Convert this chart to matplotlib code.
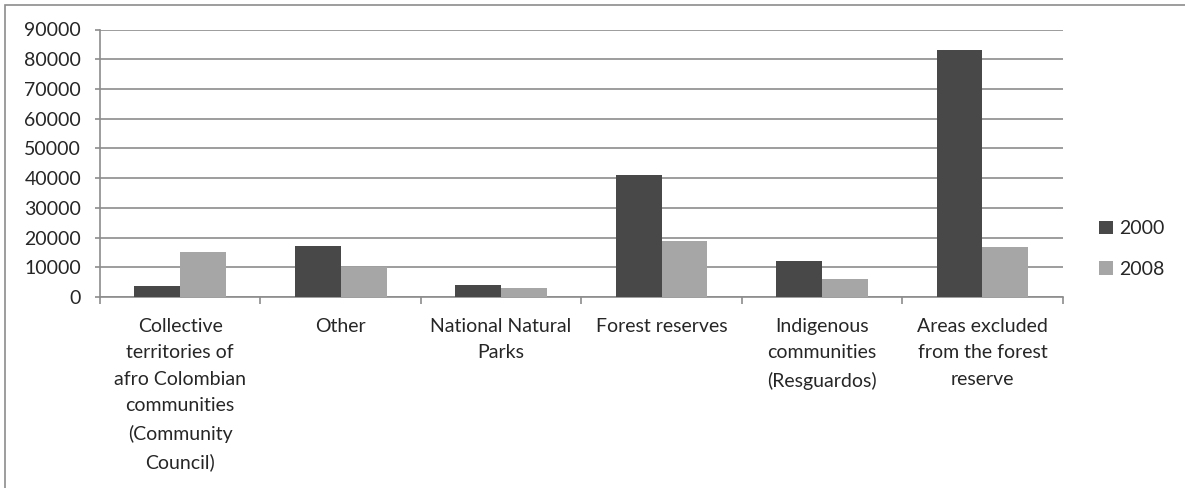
import matplotlib
matplotlib.use('Agg')
import matplotlib.pyplot as plt
import numpy as np

categories = [
    "Collective\nterritories of\nafro Colombian\ncommunities\n(Community\nCouncil)",
    "Other",
    "National Natural\nParks",
    "Forest reserves",
    "Indigenous\ncommunities\n(Resguardos)",
    "Areas excluded\nfrom the forest\nreserve",
]
values_2000 = [3700, 17200, 4100, 41100, 12000, 83000]
values_2008 = [15000, 10000, 3000, 19000, 6000, 16700]
series_labels = ["2000", "2008"]
y_ticks = list(range(0, 90001, 10000))

TEXT = "#262626"
GRID = "#8c8c8c"

plt.rcParams['font.family'] = ['Lato', 'DejaVu Sans']
plt.rcParams['font.size'] = 14

fig = plt.figure(figsize=(11.85, 4.88), dpi=100)
ax = fig.add_axes([100 / 1185, 1 - 297 / 488, 962.7 / 1185, (297 - 29.5) / 488])

# outer chart border
fig.patches.append(plt.Rectangle((5 / 1185, -0.1), 1.2, 1 - 5 / 488 + 0.1,
                                 transform=fig.transFigure, fill=False,
                                 edgecolor=GRID, linewidth=1.2))

x = np.arange(len(categories))
w = 1 / 3.5
ax.bar(x - w / 2, values_2000, width=w, color="#484848", label=series_labels[0], zorder=3)
ax.bar(x + w / 2, values_2008, width=w, color="#a6a6a6", label=series_labels[1], zorder=3)

ax.set_xlim(-0.5, len(categories) - 0.5)
ax.set_ylim(0, 90000)
ax.set_yticks(y_ticks)
ax.set_yticklabels([str(t) for t in y_ticks], color=TEXT)
ax.yaxis.grid(True, color=GRID, linewidth=1.2, zorder=0)

ax.set_xticks(x)
ax.set_xticklabels(categories, color=TEXT, linespacing=1.68, va='top')
ax.set_xticks(np.arange(-0.5, len(categories)), minor=True)
ax.tick_params(axis='x', which='major', length=0, pad=15)
ax.tick_params(axis='x', which='minor', length=5, color=GRID, width=1.2)
ax.tick_params(axis='y', length=3.6, color=GRID, width=1.2, pad=10)

for side in ['top', 'right']:
    ax.spines[side].set_visible(False)
for side in ['left', 'bottom']:
    ax.spines[side].set_color(GRID)
    ax.spines[side].set_linewidth(1.2)

leg = ax.legend(loc='center left', bbox_to_anchor=(1.02, 0.18), frameon=False,
                handlelength=0.7, handleheight=0.7, handletextpad=0.3,
                labelspacing=1.2, labelcolor=TEXT)

plt.savefig("out.png", dpi=100)
plt.close()
